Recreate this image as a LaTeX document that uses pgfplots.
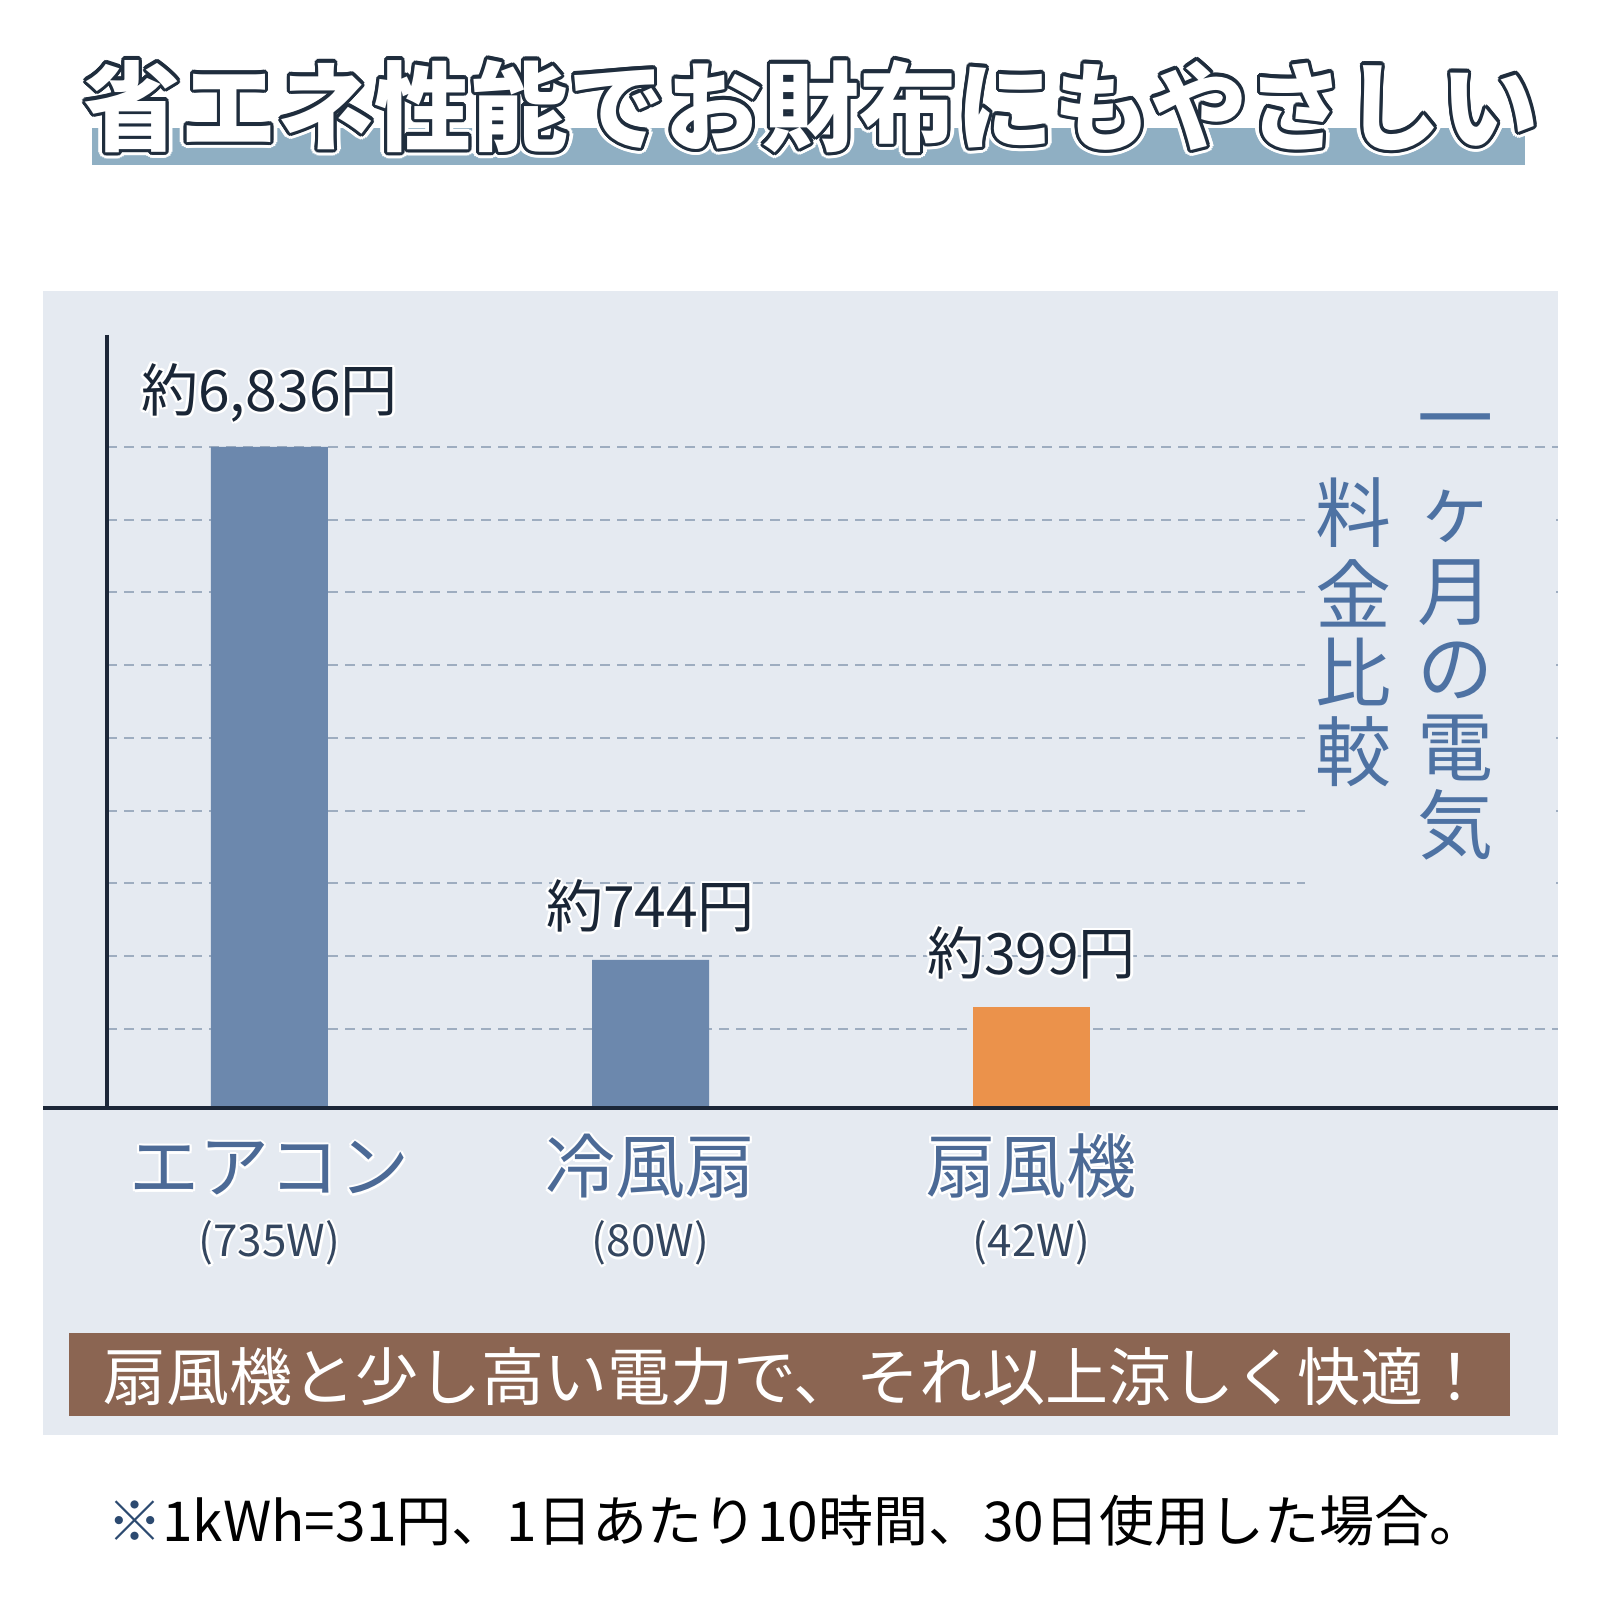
\documentclass[border=0pt]{standalone}
\usepackage{pgfplots}
\pgfplotsset{compat=1.18}
\usepackage{pgfplotstable}
\usepackage{fontspec}
\setmainfont{Noto Sans CJK JP}
\definecolor{panel}{HTML}{E5EAF1}
\definecolor{barblue}{HTML}{6C88AD}
\definecolor{barorange}{HTML}{EB924B}
\definecolor{axisc}{HTML}{1C2738}
\definecolor{gridc}{HTML}{9EADC0}
\definecolor{labc}{HTML}{1A2636}
\definecolor{catc}{HTML}{4C6A96}
\definecolor{wattc}{HTML}{34465F}
\definecolor{vertc}{HTML}{4E72A3}
\definecolor{banner}{HTML}{8B6552}
\definecolor{titlebar}{HTML}{8FAFC3}
\definecolor{titleline}{HTML}{1F2D3D}
\definecolor{kome}{HTML}{2C4A70}

\newcommand\halo[2]{\leavevmode
  \rlap{\kern1.2pt\textcolor{white}{#2}}%
  \rlap{\kern-1.2pt\textcolor{white}{#2}}%
  \rlap{\raisebox{1.2pt}{\textcolor{white}{#2}}}%
  \rlap{\raisebox{-1.2pt}{\textcolor{white}{#2}}}%
  \rlap{\kern0.85pt\raisebox{0.85pt}{\textcolor{white}{#2}}}%
  \rlap{\kern-0.85pt\raisebox{0.85pt}{\textcolor{white}{#2}}}%
  \rlap{\kern0.85pt\raisebox{-0.85pt}{\textcolor{white}{#2}}}%
  \rlap{\kern-0.85pt\raisebox{-0.85pt}{\textcolor{white}{#2}}}%
  \textcolor{#1}{#2}}

\newcommand\cat[2]{\vtop{\baselineskip=32pt\lineskiplimit=-100pt\lineskip=0pt
  \halign{\hfil##\hfil\cr
  \fontsize{35pt}{35pt}\selectfont\halo{catc}{#1}\cr
  \fontsize{22pt}{22pt}\selectfont\halo{wattc}{#2}\cr}}}

\pgfplotstableread{
x h yen label
0 661 6836 約6,836円
1 148 744 約744円
2 101 399 約399円
}\costs

\begin{document}
\begin{tikzpicture}
\begin{scope}[x=0.5pt,y=0.5pt]
\useasboundingbox (0,0) rectangle (1600,1600);
\fill[white] (0,0) rectangle (1600,1600);
% title bar and title
\fill[titlebar] (92,1472) rectangle (1525,1435);
\def\ttl{省エネ性能でお財布にもやさしい}
\foreach \a in {0,20,...,340}
  \node[text=white,font=\fontsize{48.5pt}{48.5pt}\selectfont\bfseries,inner sep=0pt] at ([shift={(\a:3.4pt)}]811,1494) {\ttl};
\foreach \a in {0,20,...,340}
  \node[text=titleline,font=\fontsize{48.5pt}{48.5pt}\selectfont\bfseries,inner sep=0pt] at ([shift={(\a:1.6pt)}]811,1494) {\ttl};
\node[text=white,font=\fontsize{48.5pt}{48.5pt}\selectfont\bfseries,inner sep=0pt] at (811,1494) {\ttl};
% panel
\fill[panel] (43,1309) rectangle (1558,165);
\end{scope}
\begin{axis}[
  at={(53.5pt,246pt)}, anchor=south west,
  width=725.5pt, height=386.5pt, scale only axis,
  xmin=-0.4265, xmax=3.3819, ymin=0, ymax=773,
  axis line style={draw=none},
  ybar, bar width=58.5pt,
  xtick={0,1,2},
  xticklabels={{\cat{エアコン}{(735W)}},{\cat{冷風扇}{(80W)}},{\cat{扇風機}{(42W)}}},
  xticklabel style={anchor=base, inner sep=0pt, yshift=-42.5pt},
  ytick={79,151.75,224.5,297.25,370,442.75,515.5,588.25,661},
  yticklabel={\mbox{}},
  major tick length=0pt,
  ymajorgrids,
  major grid style={draw=gridc, line width=1pt, dash pattern=on 5pt off 3.5pt},
  nodes near coords={\halo{labc}{\pgfplotspointmeta}},
  point meta=explicit symbolic,
  every node near coord/.append style={anchor=center, yshift=27pt, inner sep=0pt, font=\fontsize{28.5pt}{28.5pt}\selectfont},
  clip=false,
]
\addplot[fill=barblue, draw=none, bar shift=0pt, restrict x to domain=-0.5:1.5] table[x=x,y=h,meta=label]{\costs};
\addplot[fill=barorange, draw=none, bar shift=0pt, restrict x to domain=1.5:2.5] table[x=x,y=h,meta=label]{\costs};
\end{axis}
\begin{scope}[x=0.5pt,y=0.5pt]
\draw[axisc, line width=1.6pt] (107,1265) -- (107,492);
\draw[axisc, line width=1.6pt] (43,492) -- (1558,492);
% vertical caption
\fill[panel] (1305,1135) rectangle (1556,695);
\begin{scope}[every node/.style={text=vertc, inner sep=0pt, font=\fontsize{38pt}{38pt}\selectfont}]
\node at (1455,1170) {一};
\node at (1455,1084) {ヶ};
\node at (1455,1007) {月};
\node at (1455,930) {の};
\node at (1455,852) {電};
\node at (1455,775) {気};
\node at (1353,1087) {料};
\node at (1353,1007) {金};
\node at (1353,928) {比};
\node at (1353,848) {較};
\end{scope}
% banner
\fill[banner] (69,267) rectangle (1510,184);
\node[text=white, inner sep=0pt, font=\fontsize{31.5pt}{31.5pt}\selectfont] at (795,223) {扇風機と少し高い電力で、それ以上涼しく快適！};
% footnote
\node[anchor=west, inner sep=0pt, font=\fontsize{27.5pt}{27.5pt}\selectfont] at (107,79) {\textcolor{kome}{※}1kWh=31円、1日あたり10時間、30日使用した場合。};
\end{scope}
\end{tikzpicture}
\end{document}
